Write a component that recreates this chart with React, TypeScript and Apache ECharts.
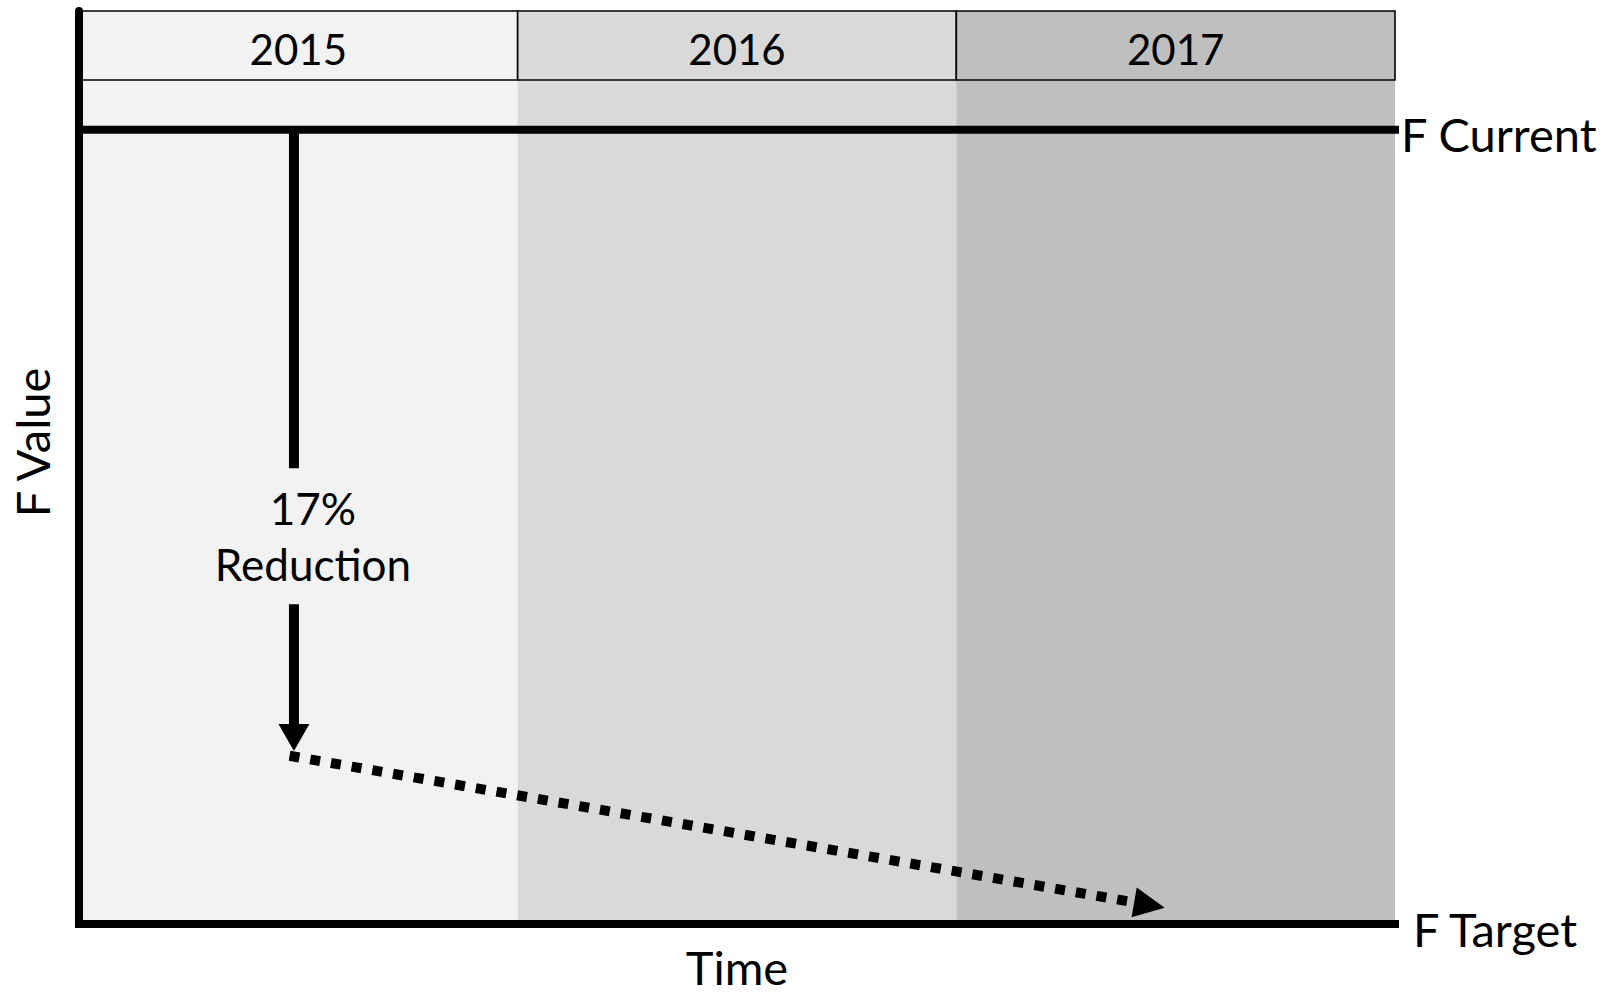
import React, { useEffect, useRef } from "react";
import * as echarts from "echarts";

// ---- data ----
const years = ["2015", "2016", "2017"];
const yearStart = [0, 1, 2];
const yearEnd = [1, 2, 3];
const bandColors = ["#f2f2f2", "#d9d9d9", "#bfbfbf"];

const levelNames = ["F Current", "F Target"];
const levelValues = [100, 83];

const reductionPct = 17;
const reductionArrowX = 0.49;
const reductionArrowEnd = 86.7;
const reductionLabelY = 91.3;

const trajectoryX = [0.48, 2.475];
const trajectoryY = [86.6, 83.35];

const X_MIN = 0;
const X_MAX = 3;
const Y_MIN = 83;
const Y_MAX = 102.54;

// ---- styles ----
const FONT = "Lato";
const HEADER_H = 69;
const levelLabelDist = [6, 18];
const levelLabelDy = [4, 5];

export default function App() {
  const ref = useRef<HTMLDivElement>(null);

  useEffect(() => {
    if (!ref.current) return;
    const chart = echarts.init(ref.current, undefined, { renderer: "svg" });

    const bandData = years.map((_, i) => [yearStart[i], yearEnd[i], i]);

    const levelSeries = levelNames.map((name, k) => ({
      type: "line",
      name,
      z: 3,
      clip: false,
      symbol: "none",
      showSymbol: false,
      silent: true,
      data: [
        [X_MIN, levelValues[k]],
        [X_MAX, levelValues[k]],
      ],
      lineStyle: { color: "#000", width: 8, cap: "square" },
      endLabel: {
        show: true,
        formatter: (p: any) => p.seriesName,
        distance: levelLabelDist[k],
        offset: [0, levelLabelDy[k]],
        color: "#000",
        fontSize: 47,
        fontFamily: FONT,
      },
    }));

    const option: any = {
      animation: false,
      backgroundColor: "#ffffff",
      grid: { left: 79, right: 211, top: 11, bottom: 65, containLabel: false },
      xAxis: {
        type: "value",
        min: X_MIN,
        max: X_MAX,
        axisLine: { show: false },
        axisTick: { show: false },
        axisLabel: { show: false },
        splitLine: { show: false },
        name: "Time",
        nameLocation: "middle",
        nameGap: 19,
        nameTextStyle: { fontSize: 47, fontFamily: FONT, color: "#000" },
      },
      yAxis: {
        type: "value",
        min: Y_MIN,
        max: Y_MAX,
        z: 10,
        axisLine: { show: true, lineStyle: { color: "#000", width: 8 } },
        axisTick: { show: false },
        axisLabel: { show: false },
        splitLine: { show: false },
        name: "F Value",
        nameLocation: "middle",
        nameGap: 24,
        nameRotate: 90,
        nameTextStyle: {
          fontSize: 47,
          fontFamily: FONT,
          color: "#000",
          padding: [0, 0, 0, 50],
        },
      },
      series: [
        {
          type: "custom",
          name: "years",
          z: 1,
          silent: true,
          data: bandData,
          renderItem: (params: any, api: any) => {
            const i = api.value(2);
            const tl = api.coord([api.value(0), Y_MAX]);
            const br = api.coord([api.value(1), Y_MIN]);
            const w = br[0] - tl[0];
            return {
              type: "group",
              children: [
                {
                  type: "rect",
                  shape: { x: tl[0], y: tl[1], width: w, height: br[1] - tl[1] },
                  style: { fill: bandColors[i] },
                },
                {
                  type: "rect",
                  shape: { x: tl[0], y: tl[1], width: w, height: HEADER_H },
                  style: { fill: bandColors[i], stroke: "#000", lineWidth: 1.6 },
                },
                {
                  type: "text",
                  x: tl[0] + w / 2,
                  y: tl[1] + HEADER_H / 2 + 3,
                  style: {
                    text: years[i],
                    fill: "#000",
                    fontSize: 42,
                    fontFamily: FONT,
                    align: "center",
                    verticalAlign: "middle",
                  },
                },
              ],
            };
          },
        },
        ...levelSeries,
        {
          type: "custom",
          name: "annotation",
          z: 4,
          silent: true,
          data: [[reductionArrowX]],
          renderItem: (params: any, api: any) => {
            const top = api.coord([reductionArrowX, levelValues[0]]);
            const tip = api.coord([reductionArrowX, reductionArrowEnd]);
            const lab = api.coord([reductionArrowX, reductionLabelY]);
            const gap = 68;
            const headL = 27;
            const headHW = 15.5;
            const s = api.coord([trajectoryX[0], trajectoryY[0]]);
            const e = api.coord([trajectoryX[1], trajectoryY[1]]);
            const dx = e[0] - s[0];
            const dy = e[1] - s[1];
            const len = Math.sqrt(dx * dx + dy * dy);
            const ux = dx / len;
            const uy = dy / len;
            const tHead = 31;
            const tHW = 15;
            const bx = e[0] - ux * tHead;
            const by = e[1] - uy * tHead;
            return {
              type: "group",
              children: [
                {
                  type: "line",
                  shape: { x1: top[0], y1: top[1], x2: top[0], y2: lab[1] - gap },
                  style: { stroke: "#000", lineWidth: 10 },
                },
                {
                  type: "line",
                  shape: { x1: top[0], y1: lab[1] + gap, x2: top[0], y2: tip[1] - headL + 1 },
                  style: { stroke: "#000", lineWidth: 10 },
                },
                {
                  type: "polygon",
                  shape: {
                    points: [
                      [tip[0] - headHW, tip[1] - headL],
                      [tip[0] + headHW, tip[1] - headL],
                      [tip[0], tip[1]],
                    ],
                  },
                  style: { fill: "#000" },
                },
                {
                  type: "text",
                  x: top[0] + 19,
                  y: lab[1],
                  style: {
                    text: `${reductionPct}%\nReduction`,
                    fill: "#000",
                    fontSize: 44,
                    fontFamily: FONT,
                    lineHeight: 56,
                    align: "center",
                    verticalAlign: "middle",
                  },
                },
                {
                  type: "line",
                  shape: { x1: s[0], y1: s[1], x2: bx, y2: by },
                  style: { stroke: "#000", lineWidth: 10, lineDash: [10, 11], lineCap: "butt" },
                },
                {
                  type: "polygon",
                  shape: {
                    points: [
                      [e[0], e[1]],
                      [bx - uy * tHW, by + ux * tHW],
                      [bx + uy * tHW, by - ux * tHW],
                    ],
                  },
                  style: { fill: "#000" },
                },
              ],
            };
          },
        },
      ],
    };

    chart.setOption(option);
    return () => chart.dispose();
  }, []);

  return (
    <div
      ref={ref}
      style={{ position: "fixed", left: 0, top: 0, width: 1606, height: 995, background: "#fff" }}
    />
  );
}
